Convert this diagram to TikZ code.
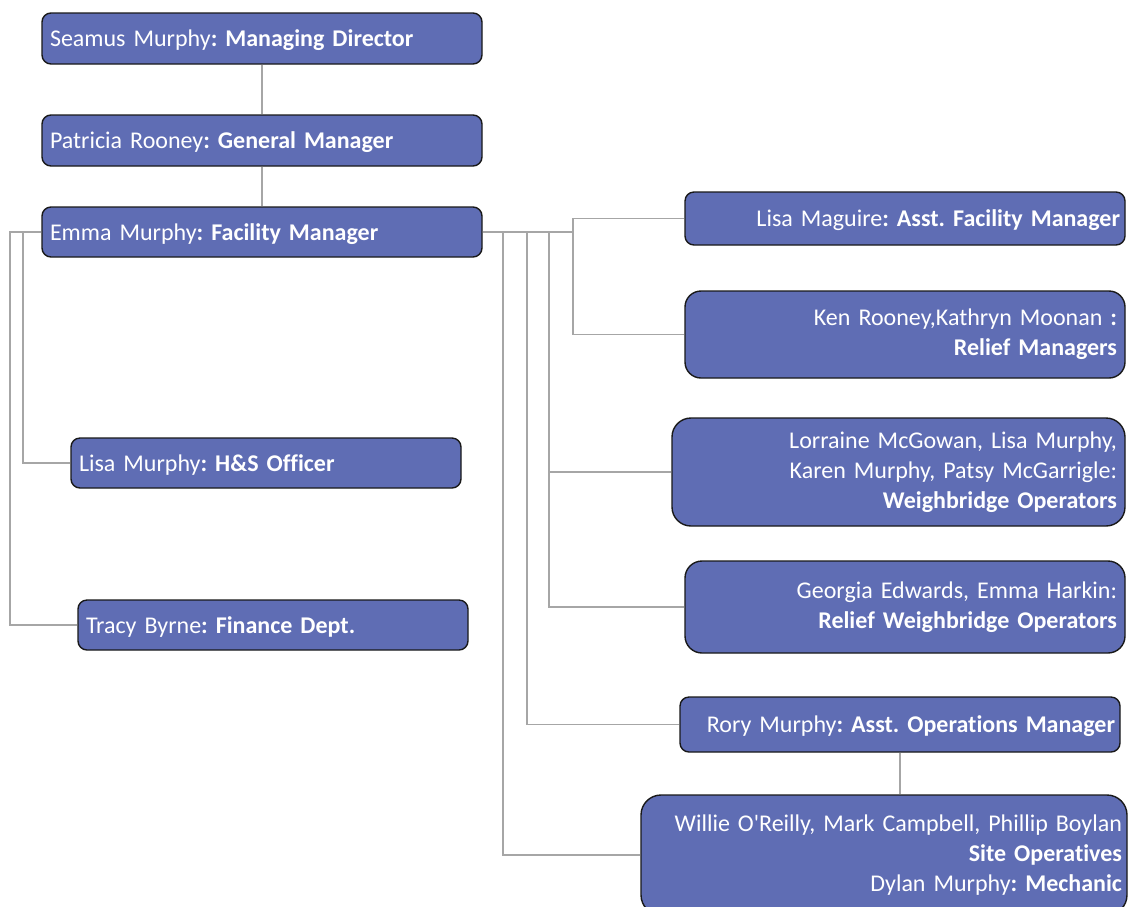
\documentclass[tikz,border=0pt]{standalone}
\usepackage{fontspec}
\setmainfont{Carlito}[Ligatures=NoCommon]
\definecolor{boxblue}{RGB}{95,109,180}
\definecolor{linkgray}{RGB}{166,166,166}
\frenchspacing

\begin{document}
\begin{tikzpicture}[x=1pt, y=-1pt,
    orgbox/.style={draw=black!90, line width=1.4pt, fill=boxblue, text=white,
        rounded corners=9pt, inner xsep=8pt, inner ysep=0pt,
        font=\fontsize{24}{30}\selectfont},
    oneline/.style={orgbox, text depth=0pt},
    boxsize/.style 2 args={minimum width=#1, minimum height=#2},
    link/.style={linkgray, line width=1.5pt}]

    \useasboundingbox (0,0) rectangle (1131,906);

    % Management chain
    \node[oneline, boxsize={440pt}{51pt}, text width=424pt, align=left] (seamus) at (262,38.5) {Seamus Murphy\textbf{: Managing Director}};
    \node[oneline, boxsize={440pt}{51pt}, text width=424pt, align=left] (patricia) at (262,140.5) {Patricia Rooney\textbf{: General Manager}};
    \node[oneline, boxsize={440pt}{50pt}, text width=424pt, align=left] (emma) at (262,232) {Emma Murphy\textbf{: Facility Manager}};

    % Left side
    \node[oneline, boxsize={390pt}{50pt}, text width=374pt, align=left] (hsofficer) at (266,463) {Lisa Murphy\textbf{: H\&S Officer}};
    \node[oneline, boxsize={390pt}{50pt}, text width=374pt, align=left] (finance) at (273,625) {Tracy Byrne\textbf{: Finance Dept.}};

    % Right side
    \node[oneline, boxsize={440pt}{53pt}, inner xsep=5pt, text width=430pt, align=right] (asstfacility) at (905,218.5) {Lisa Maguire\textbf{: Asst. Facility Manager}};
    \node[orgbox, boxsize={440pt}{87pt}, rounded corners=16pt, text width=424pt, align=right] (reliefmgr) at (905,334.5) {Ken Rooney,Kathryn Moonan \textbf{:}\\ \textbf{Relief Managers}};
    \node[orgbox, boxsize={453pt}{108pt}, rounded corners=19pt, text width=437pt, align=right] (weighbridge) at (898.5,472) {Lorraine McGowan, Lisa Murphy,\\ Karen Murphy, Patsy McGarrigle:\\ \textbf{Weighbridge Operators}};
    \node[orgbox, boxsize={440pt}{92pt}, rounded corners=17pt, text width=424pt, align=right] (reliefweigh) at (905,607) {Georgia Edwards, Emma Harkin:\\ \textbf{Relief Weighbridge Operators}};
    \node[oneline, boxsize={440pt}{55pt}, inner xsep=5pt, text width=430pt, align=right] (asstops) at (900,724.5) {Rory Murphy\textbf{: Asst. Operations Manager}};
    \node[orgbox, boxsize={486pt}{120pt}, rounded corners=20pt, inner xsep=5pt, text width=476pt, align=right] (siteops) at (884,855) {Willie O\textquotesingle Reilly, Mark Campbell, Phillip Boylan\\ \textbf{Site Operatives}\\ Dylan Murphy\textbf{: Mechanic}};

    % Branch points
    \coordinate (leftA) at (10,232);
    \coordinate (leftB) at (23,232);
    \coordinate (busA) at (503,232);
    \coordinate (busB) at (527,232);
    \coordinate (busC) at (549,232);
    \coordinate (busD) at (573,232);

    % Connectors
    \draw[link] (seamus) -- (patricia);
    \draw[link] (patricia) -- (emma);
    \draw[link] (emma.west) -- (leftA) |- (finance.west);
    \draw[link] (leftB) |- (hsofficer.west);
    \draw[link] (emma.east) -- (busD) |- (asstfacility.west);
    \draw[link] (busD) |- (reliefmgr.west);
    \draw[link] (busC) |- (weighbridge.west);
    \draw[link] (busC) |- (reliefweigh.west);
    \draw[link] (busB) |- (asstops.west);
    \draw[link] (busA) |- (siteops.west);
    \draw[link] (asstops.south) -- (asstops.south |- siteops.north);
\end{tikzpicture}
\end{document}
